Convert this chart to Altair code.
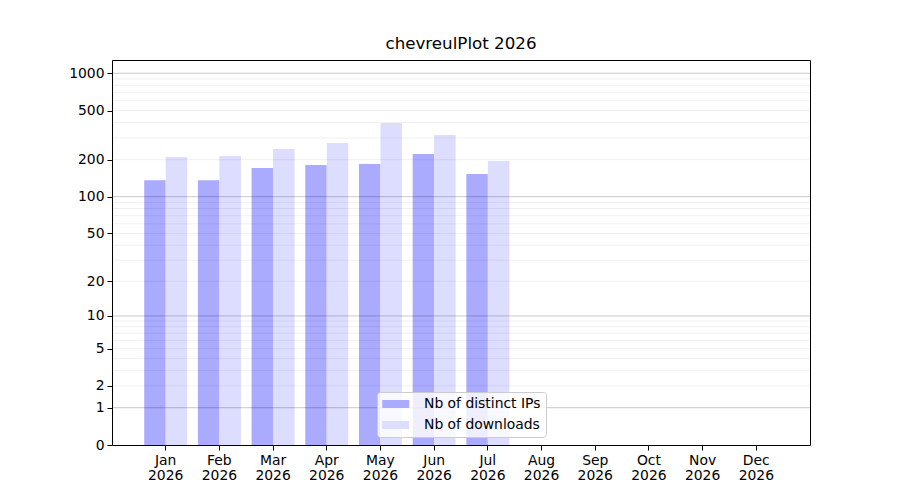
import altair as alt
import pandas as pd

# ---- data ----
months = ["Jan", "Feb", "Mar", "Apr", "May", "Jun", "Jul", "Aug", "Sep", "Oct", "Nov", "Dec"]
year = "2026"
data_months = ["Jan", "Feb", "Mar", "Apr", "May", "Jun", "Jul"]
distinct_ips = [136, 136, 171, 181, 184, 222, 153]
downloads = [210, 214, 244, 273, 396, 317, 195]
series = ["Nb of distinct IPs", "Nb of downloads"]
colors = ["#aaaaff", "#ddddff"]
y_ticks = [0, 1, 2, 5, 10, 20, 50, 100, 200, 500, 1000]
major_grid = [1, 10, 100, 1000]
minor_grid = [2, 3, 4, 5, 6, 7, 8, 9,
              20, 30, 40, 50, 60, 70, 80, 90,
              200, 300, 400, 500, 600, 700, 800, 900]

month_labels = [f"{m} {year}" for m in months]

rows = []
for m, ip, dl in zip(data_months, distinct_ips, downloads):
    rows.append({"month": f"{m} {year}", "series": series[0], "value": ip})
    rows.append({"month": f"{m} {year}", "series": series[1], "value": dl})
df = pd.DataFrame(rows)

FONT = "DejaVu Sans"
FS = 13.9

yscale = alt.Scale(type="symlog", constant=1, domain=[0, 1280], nice=False)

bars = alt.Chart(df).mark_bar().encode(
    x=alt.X(
        "month:N",
        sort=month_labels,
        scale=alt.Scale(domain=month_labels, paddingInner=0.2, paddingOuter=0.6),
        axis=alt.Axis(
            title=None,
            labelAngle=0,
            labelExpr="split(datum.label, ' ')",
            labelFontSize=FS,
            labelLineHeight=15,
            labelPadding=3,
            labelOverlap=False,
            tickSize=5,
            tickColor="black",
            tickWidth=1,
            domain=False,
            grid=False,
            labelColor="black",
            labelFont=FONT,
        ),
    ),
    xOffset=alt.XOffset(
        "series:N", sort=series,
        scale=alt.Scale(domain=series, paddingInner=0, paddingOuter=0),
    ),
    y=alt.Y(
        "value:Q",
        scale=yscale,
        axis=alt.Axis(
            title=None,
            values=y_ticks,
            tickCount=50,
            format="d",
            grid=False,
            domain=False,
            labelOverlap=False,
            tickSize=5,
            tickColor="black",
            tickWidth=1,
            labelFontSize=FS,
            labelPadding=3,
            labelColor="black",
            labelFont=FONT,
        ),
    ),
    color=alt.Color(
        "series:N",
        sort=series,
        scale=alt.Scale(domain=series, range=colors),
        legend=alt.Legend(
            title=None,
            orient="none",
            legendX=265,
            legendY=332,
            fillColor="rgba(255,255,255,0.8)",
            strokeColor="#cccccc",
            cornerRadius=3,
            padding=5,
            labelFontSize=FS,
            labelFont=FONT,
            labelColor="black",
            symbolType="M-1,-0.593L3,-0.593L3,0.593L-1,0.593Z",
            symbolSize=182,
            symbolStrokeWidth=0,
            symbolOpacity=1,
            labelOffset=28,
            rowPadding=7,
        ),
    ),
)

minor = alt.Chart(pd.DataFrame({"value": minor_grid})).mark_rule(
    color="black", opacity=0.08, strokeWidth=0.8
).encode(y=alt.Y("value:Q", scale=yscale))

major = alt.Chart(pd.DataFrame({"value": major_grid})).mark_rule(
    color="black", opacity=0.27, strokeWidth=0.8
).encode(y=alt.Y("value:Q", scale=yscale))

chart = alt.layer(bars, minor, major).properties(
    width=698,
    height=385,
    title=alt.TitleParams(
        "chevreulPlot 2026", fontSize=16.7, font=FONT, fontWeight="normal",
        color="black", offset=7, anchor="middle",
    ),
    autosize=alt.AutoSizeParams(type="none"),
    padding={"left": 104, "top": 52, "right": 80, "bottom": 40},
).configure(
    font=FONT, background="white"
).configure_view(
    stroke="black", strokeWidth=1
)

chart.save("out.html", embed_options={"renderer": "svg", "actions": False})
